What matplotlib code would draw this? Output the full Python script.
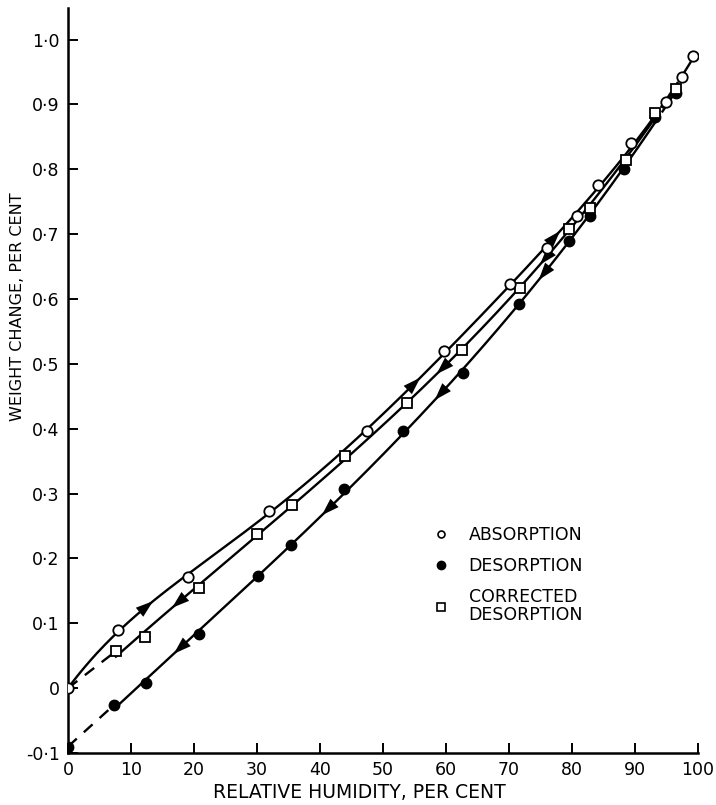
import numpy as np
import matplotlib.pyplot as plt

# relative humidity (%) and weight change (%)
abs_rh = [0, 7.9, 19.0, 31.9, 47.5, 59.7, 70.2, 76.0, 80.8, 84.1, 89.4, 94.9, 97.5, 99.2]
abs_wt = [0, 0.090, 0.171, 0.273, 0.397, 0.519, 0.623, 0.679, 0.728, 0.776, 0.840, 0.903, 0.942, 0.974]

des_rh = [0, 7.3, 12.3, 20.8, 30.2, 35.4, 43.8, 53.2, 62.7, 71.6, 79.5, 82.9, 88.3, 93.2, 96.5]
des_wt = [-0.090, -0.026, 0.008, 0.083, 0.173, 0.221, 0.307, 0.397, 0.486, 0.592, 0.690, 0.728, 0.801, 0.880, 0.918]

cor_rh = [0, 7.6, 12.2, 20.8, 30.0, 35.5, 44.0, 53.8, 62.6, 71.7, 79.5, 82.9, 88.5, 93.2, 96.5]
cor_wt = [0, 0.057, 0.079, 0.154, 0.238, 0.282, 0.358, 0.440, 0.522, 0.617, 0.708, 0.741, 0.815, 0.886, 0.923]

# arrow positions along each curve (relative humidity)
abs_arrows = [13.0, 55.4, 77.6]
des_arrows = [17.3, 40.8, 58.7, 75.2]
cor_arrows = [17.0, 59.0, 75.4]

xticks = [0, 10, 20, 30, 40, 50, 60, 70, 80, 90, 100]
yticks = [-0.1, 0, 0.1, 0.2, 0.3, 0.4, 0.5, 0.6, 0.7, 0.8, 0.9, 1.0]
ylabels = ['-0·1', '0', '0·1', '0·2', '0·3', '0·4', '0·5', '0·6', '0·7', '0·8', '0·9', '1·0']

plt.rcParams['font.family'] = ['DejaVu Sans']

fig = plt.figure(figsize=(7.16, 8.05), dpi=100)
ax = fig.add_axes([0.095, 0.0646, 0.88, 0.925])

LW = 1.7


def fit(rh, wt, deg, w=None):
    return np.poly1d(np.polyfit(rh, wt, deg, w=w))


def arrows(poly, xs, up):
    for x in xs:
        d = 0.5
        a, b = (x - d, x + d) if up else (x + d, x - d)
        ax.annotate('', xy=(b, poly(b)), xytext=(a, poly(a)),
                    arrowprops=dict(arrowstyle='-|>,head_length=0.9,head_width=0.3',
                                    mutation_scale=14, color='black', lw=0.01,
                                    shrinkA=0, shrinkB=0), zorder=4)


# absorption curve
wa = np.ones(len(abs_rh)); wa[0] = 6
pa = fit(abs_rh, abs_wt, 5, wa)
x = np.linspace(0, 93, 300)
ax.plot(x, pa(x), color='black', lw=LW)
x = np.linspace(93, 97.5, 30)
ax.plot(x, pa(x), color='black', lw=LW, ls=(0, (3, 2)))
x = np.linspace(97.5, 99.2, 20)
ax.plot(x, pa(x), color='black', lw=LW)
arrows(pa, abs_arrows, True)

# desorption curve
pd_ = fit(des_rh[1:], des_wt[1:], 3)
x = np.linspace(des_rh[1], 93.2, 300)
ax.plot(x, pd_(x), color='black', lw=LW)
x = np.linspace(93.2, des_rh[-1], 30)
ax.plot(x, pd_(x), color='black', lw=LW, ls=(0, (3, 2)))
ax.plot(des_rh[:2], des_wt[:2], color='black', lw=LW, ls=(0, (5, 4)))
arrows(pd_, des_arrows, False)

# corrected desorption curve
pc = fit(cor_rh[1:], cor_wt[1:], 3)
x = np.linspace(cor_rh[1], 93.2, 300)
ax.plot(x, pc(x), color='black', lw=LW)
x = np.linspace(93.2, cor_rh[-1], 30)
ax.plot(x, pc(x), color='black', lw=LW, ls=(0, (3, 2)))
ax.plot(cor_rh[:2], cor_wt[:2], color='black', lw=LW, ls=(0, (5, 4)))
arrows(pc, cor_arrows, False)

# markers
ax.plot(des_rh, des_wt, 'o', ms=7.5, mfc='black', mec='black', ls='none', zorder=5)
ax.plot(cor_rh[1:], cor_wt[1:], 's', ms=7.5, mfc='white', mec='black', mew=1.3, ls='none', zorder=6)
ax.plot(abs_rh, abs_wt, 'o', ms=7.5, mfc='white', mec='black', mew=1.3, ls='none', zorder=7)

# legend
h1, = ax.plot([], [], 'o', ms=5, mfc='white', mec='black', mew=1.2, ls='none')
h2, = ax.plot([], [], 'o', ms=6, mfc='black', mec='black', ls='none')
h3, = ax.plot([], [], 's', ms=5.5, mfc='white', mec='black', mew=1.2, ls='none')
leg = ax.legend([h1, h2, h3], ['ABSORPTION', 'DESORPTION', 'CORRECTED\nDESORPTION'],
                loc='upper left', bbox_to_anchor=(0.553, 0.326), frameon=False,
                fontsize=12.5, handletextpad=1.1, labelspacing=0.75, handlelength=1.0)
for t in leg.get_texts():
    t.set_linespacing(1.0)

ax.set_xlim(0, 100)
ax.set_ylim(-0.1, 1.048)
ax.set_xticks(xticks)
ax.set_xticklabels([str(t) for t in xticks])
ax.set_yticks(yticks)
ax.set_yticklabels(ylabels)
ax.tick_params(direction='in', length=7, width=1.4, labelsize=12.5, pad=6)
for s in ['top', 'right']:
    ax.spines[s].set_visible(False)
for s in ['left', 'bottom']:
    ax.spines[s].set_linewidth(1.8)

ax.set_xlabel('RELATIVE HUMIDITY, PER CENT', fontsize=13.5)
ax.set_ylabel('WEIGHT CHANGE, PER CENT', fontsize=11.5)
ax.xaxis.set_label_coords(0.463, -0.040)
ax.yaxis.set_label_coords(-0.068, 0.60)

fig.savefig('out.png', dpi=100)
